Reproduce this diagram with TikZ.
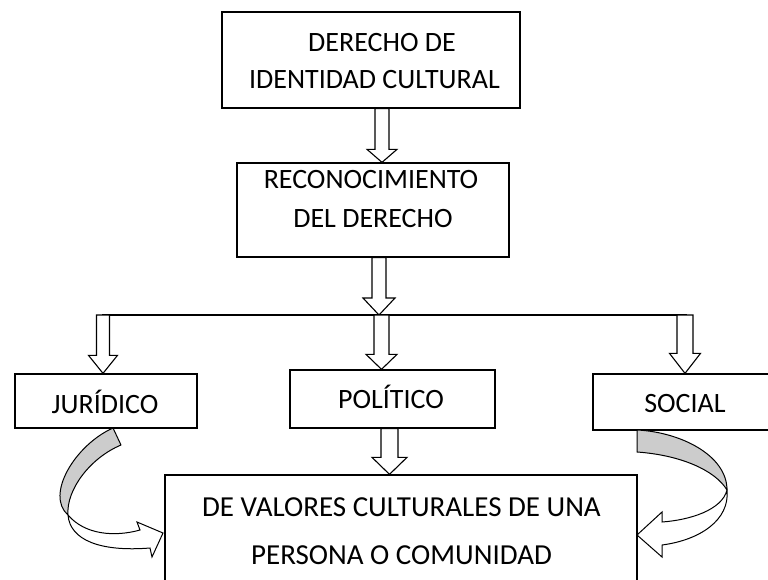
\documentclass[tikz,border=0pt]{standalone}
\usepackage{fontspec}
\setmainfont{Carlito}
\usetikzlibrary{calc}
\newcommand\blockdown[6]{% x, from, to, half shaft, half head, head length
  \draw[blk] let \p1=(#2), \p2=(#3) in
    ({(#1-#4)*1pt},\y1) -- ({(#1-#4)*1pt},{\y2+#6pt}) -- ({(#1-#5)*1pt},{\y2+#6pt})
    -- ({#1*1pt},\y2) -- ({(#1+#5)*1pt},{\y2+#6pt}) -- ({(#1+#4)*1pt},{\y2+#6pt})
    -- ({(#1+#4)*1pt},\y1) -- cycle;}
\begin{document}
\begin{tikzpicture}[x=1pt,y=-1pt,
  box/.style={draw, line width=1.3pt, fill=white, inner sep=0pt},
  txt/.style={font=\fontsize{28}{34}\selectfont, inner sep=0pt, anchor=base},
  txtb/.style={font=\fontsize{29}{35}\selectfont, inner sep=0pt, anchor=base},
  blk/.style={draw, line width=1.1pt, fill=white, line join=miter},
  curv/.style={draw, line width=1pt, fill=black!20, line join=round},
  curvw/.style={draw, line width=1pt, fill=white, line join=miter}]
\clip (0,0) rectangle (768,579);
\fill[white] (0,0) rectangle (768,579);

% bus line
\coordinate (bl) at (102,315);
\coordinate (br) at (687,315);
\coordinate (bus) at (379,315);
\draw[line width=1.3pt] (bl) -- (br);

% boxes
\node[box, minimum width=298pt, minimum height=96pt] (top) at (371,60) {};
\node[box, minimum width=272pt, minimum height=94pt] (reco) at (373,210) {};
\node[box, minimum width=182pt, minimum height=54pt] (jur) at (106,401) {};
\node[box, minimum width=205pt, minimum height=58pt] (pol) at (392.5,399) {};
\node[box, minimum width=200pt, minimum height=56pt] (soc) at (693,402) {};
\node[box, minimum width=472pt, minimum height=160pt] (val) at (401,555) {};

% block arrows
\blockdown{382}{top.south}{reco.north}{7}{15}{13}
\blockdown{379}{reco.south}{bus}{7}{16}{17}
\blockdown{103}{bl}{jur.north}{6.5}{14.5}{18}
\blockdown{381.5}{bus}{pol.north}{7.5}{15.5}{15}
\blockdown{685}{br}{soc.north}{8}{15.5}{20}
\blockdown{389.5}{pol.south}{val.north}{8.5}{17.5}{17}

% texts
\node[txt] (t1) at (382,51) {DERECHO DE};
\node[txt] (t2) at (374.5,88) {IDENTIDAD CULTURAL};
\node[txt] (r1) at (371,188) {RECONOCIMIENTO};
\node[txt] (r2) at (373,227) {DEL DERECHO};
\node[txt] (jt) at (105,413) {JURÍDICO};
\node[txt] (pt) at (391,408) {POLÍTICO};
\node[txt] (st) at (685,412) {SOCIAL};
\node[txtb] (v1) at (401.5,516) {DE VALORES CULTURALES DE UNA};
\node[txtb] (v2) at (401.5,564) {PERSONA O COMUNIDAD};

% curved arrow left
\draw[curv] (113,428) .. controls (75,445) and (45,495) .. (68,515)
  .. controls (66,490) and (90,458) .. (121,445) -- cycle;
\draw[curvw] (68,515) .. controls (85,535) and (115,537) .. (140,530)
  -- (137,522) -- (163,533) -- (152,557) -- (150,548)
  .. controls (100,552) and (70,540) .. (68,515) -- cycle;

% curved arrow right
\draw[curv] (637,430) .. controls (680,432) and (727,455) .. (727,490)
  .. controls (715,470) and (680,455) .. (637,452) -- cycle;
\draw[curvw] (727,490) .. controls (722,510) and (690,520) .. (662,522)
  -- (662,512) -- (637,535) -- (662,557) -- (662,545)
  .. controls (700,540) and (730,520) .. (727,490) -- cycle;
\end{tikzpicture}
\end{document}
